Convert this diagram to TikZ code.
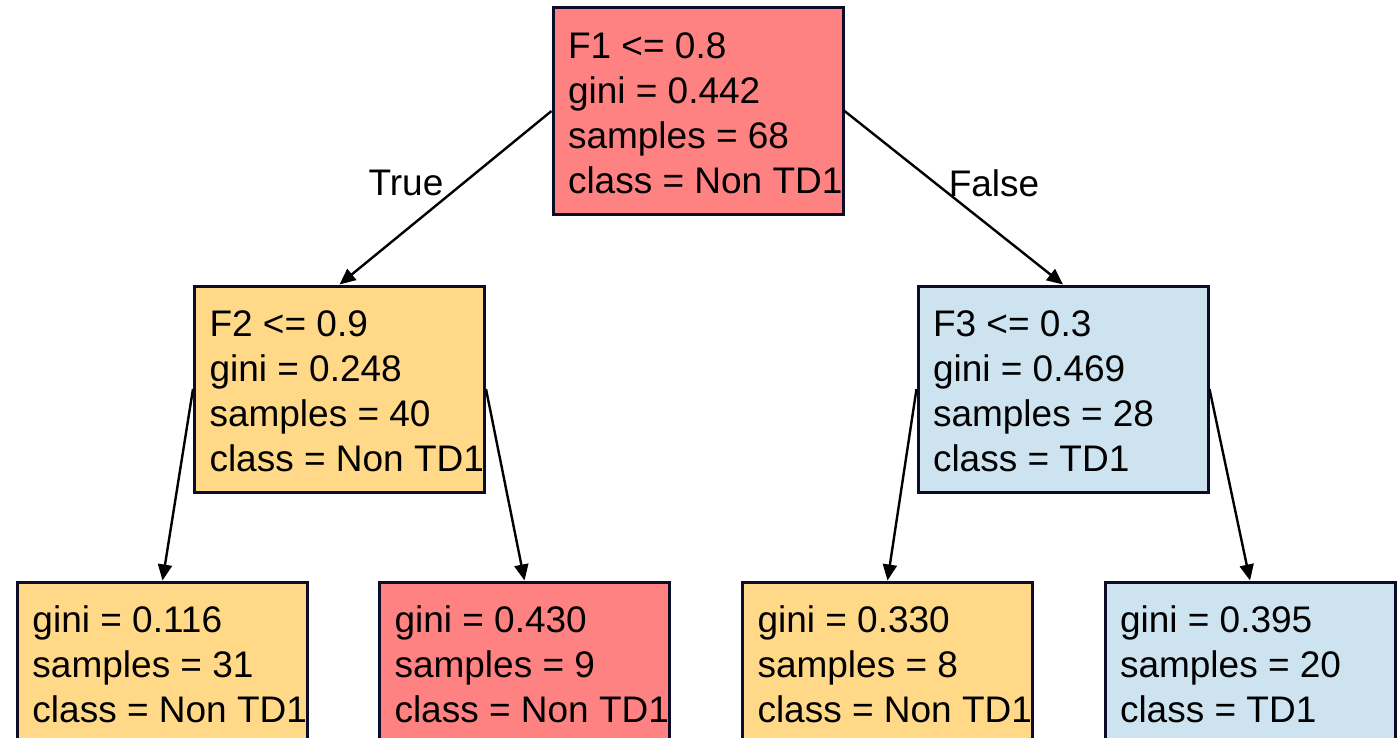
\documentclass[tikz,border=0pt]{standalone}
\usepackage{fontspec}
\setmainfont{Liberation Sans}
\usetikzlibrary{arrows.meta}
\definecolor{splitred}{RGB}{255,130,130}
\definecolor{splityellow}{RGB}{255,217,135}
\definecolor{splitblue}{RGB}{205,228,240}
\definecolor{boxline}{RGB}{12,12,40}
% box text: left aligned, may run into the right padding
\newcommand\boxlines[1]{\raisebox{-3pt}[\height][\depth]{\makebox[130pt][l]{\begin{tabular}{@{}l@{}}#1\end{tabular}}}}
\begin{document}
\begin{tikzpicture}[x=0.5pt,y=-0.5pt,>={Triangle[length=8pt,width=7pt]},
  treebox/.style={draw=boxline,line width=1.5pt,inner xsep=7.5pt,
    font=\fontsize{18.5}{22.5}\selectfont},
  splitbox/.style={treebox,minimum height=103pt},
  leafbox/.style={treebox,minimum height=80pt},
  edge/.style={->,line width=1.2pt}]
  \clip (0,0) rectangle (1397,738);
  \fill[white] (0,0) rectangle (1397,738);
  % splits
  \node[splitbox,fill=splitred] (root) at (698,111) {\boxlines{F1 <= 0.8\\gini = 0.442\\samples = 68\\class = Non TD1}};
  \node[splitbox,fill=splityellow] (f2) at (339.5,389) {\boxlines{F2 <= 0.9\\gini = 0.248\\samples = 40\\class = Non TD1}};
  \node[splitbox,fill=splitblue] (f3) at (1063,389) {\boxlines{F3 <= 0.3\\gini = 0.469\\samples = 28\\class = TD1}};
  % leaves
  \node[leafbox,fill=splityellow] (leafa) at (162.5,662) {\boxlines{gini = 0.116\\samples = 31\\class = Non TD1}};
  \node[leafbox,fill=splitred] (leafb) at (524.5,662) {\boxlines{gini = 0.430\\samples = 9\\class = Non TD1}};
  \node[leafbox,fill=splityellow] (leafc) at (887.5,662) {\boxlines{gini = 0.330\\samples = 8\\class = Non TD1}};
  \node[leafbox,fill=splitblue] (leafd) at (1250,662) {\boxlines{gini = 0.395\\samples = 20\\class = TD1}};
  % edges
  \draw[edge] (root.west) -- (f2.north);
  \draw[edge] (root.east) -- (f3.north);
  \draw[edge] (f2.west) -- (leafa.north);
  \draw[edge] (f2.east) -- (leafb.north);
  \draw[edge] (f3.west) -- (leafc.north);
  \draw[edge] (f3.east) -- (leafd.north);
  \node[font=\fontsize{18.5}{22.5}\selectfont] (lbltrue) at (406,183) {True};
  \node[font=\fontsize{18.5}{22.5}\selectfont] (lblfalse) at (994,183) {False};
\end{tikzpicture}
\end{document}
